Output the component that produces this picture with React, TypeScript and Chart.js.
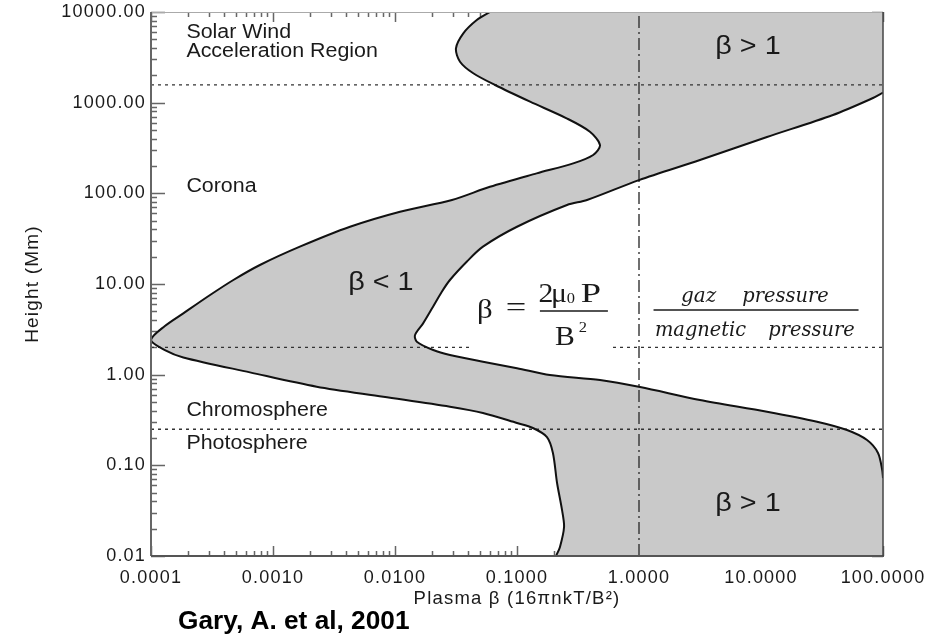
import React, { useEffect, useRef } from 'react';
import Chart from 'chart.js/auto';

// Axis ranges and tick labels
const xMin = 0.0001;
const xMax = 100;
const yMin = 0.01;
const yMax = 10000;
const xTickValues = [0.0001, 0.001, 0.01, 0.1, 1, 10, 100];
const xTickLabels = ['0.0001', '0.0010', '0.0100', '0.1000', '1.0000', '10.0000', '100.0000'];
const yTickValues = [0.01, 0.1, 1, 10, 100, 1000, 10000];
const yTickLabels = ['0.01', '0.10', '1.00', '10.00', '100.00', '1000.00', '10000.00'];

// Minimum plasma beta boundary (top of the plot to the bottom)
const minBetaX = [0.0601, 0.0468, 0.0363, 0.0316, 0.0341, 0.0438, 0.0661, 0.128, 0.255, 0.396, 0.479, 0.421, 0.289, 0.145, 0.06, 0.0293, 0.011, 0.00428, 0.00166, 0.000781, 0.000473, 0.000305, 0.000184, 0.00013, 0.0001, 0.00013, 0.000184, 0.000647, 0.00228, 0.00802, 0.0282, 0.0526, 0.1, 0.135, 0.176, 0.197, 0.213, 0.234, 0.243, 0.225, 0.209];
const minBetaH = [10000, 8160, 5820, 3975, 2830, 2110, 1566, 1025, 672, 478, 341, 265, 214, 166, 118, 84.4, 62.7, 42.8, 25.8, 16.2, 11.07, 7.56, 4.75, 3.44, 2.41, 1.87, 1.55, 1.06, 0.736, 0.571, 0.443, 0.378, 0.293, 0.258, 0.205, 0.137, 0.0638, 0.0321, 0.0209, 0.0126, 0.01];

// Maximum plasma beta boundary (right edge high, nose near 2 Mm, right edge low)
const maxBetaX = [100, 82.8, 38.9, 11.2, 3.16, 1.0, 0.375, 0.257, 0.1, 0.0526, 0.0387, 0.0282, 0.0242, 0.0205, 0.017, 0.0146, 0.0151, 0.0206, 0.0282, 0.0526, 0.1, 0.186, 0.479, 1.02, 3.16, 11.2, 28.8, 50.7, 74.0, 91.0, 98.5, 100];
const maxBetaH = [1288, 1125, 731, 418, 233, 140, 84.4, 74.3, 42.8, 25.8, 17.6, 11.07, 8.22, 5.62, 3.68, 2.74, 2.31, 1.87, 1.65, 1.39, 1.18, 0.99, 0.873, 0.731, 0.526, 0.391, 0.303, 0.245, 0.19, 0.137, 0.0889, 0.0724];

// Layer boundaries (dotted) and beta = 1 line (dash-dot)
const layerHeights = [1570, 2.0, 0.25];
const unityBeta = 1;

const SANS = "'Liberation Sans', Arial, Helvetica, sans-serif";
const SERIF = "'Liberation Serif', 'Times New Roman', serif";
const DSERIF = "'DejaVu Serif', serif";
const CURVE_TENSION = 0.3;

const regionLabels = [
  { text: 'Solar Wind', x: 1.95e-4, h: 6010 },
  { text: 'Acceleration Region', x: 1.95e-4, h: 3715 },
  { text: 'Corona', x: 1.95e-4, h: 117.5 },
  { text: 'Chromosphere', x: 1.95e-4, h: 0.407 },
  { text: 'Photosphere', x: 1.95e-4, h: 0.172 },
];
const betaLabels = [
  { text: 'β < 1', x: 0.00767, h: 10.3 },
  { text: 'β > 1', x: 7.82, h: 4055 },
  { text: 'β > 1', x: 7.82, h: 0.0375 },
];
const formulaAnchor = { x: 0.157, h: 5.04 };
const ratioAnchor = { x: 9.02, h: 5.04 };

const pts = (xs: number[], hs: number[]) => xs.map((v, i) => ({ x: v, y: hs[i] }));

function labelFor(v: number, vals: number[], labels: string[]) {
  for (let i = 0; i < vals.length; i++) {
    if (Math.abs(Math.log10(v) - Math.log10(vals[i])) < 1e-6) return labels[i];
  }
  return '';
}

function txt(ctx: CanvasRenderingContext2D, s: string, x: number, y: number, font: string,
  align: CanvasTextAlign = 'left', sx = 1, base: CanvasTextBaseline = 'middle', ls = '0px') {
  ctx.save();
  ctx.translate(x, y);
  ctx.scale(sx, 1);
  ctx.font = font;
  (ctx as any).letterSpacing = ls;
  ctx.textAlign = align;
  ctx.textBaseline = base;
  ctx.fillText(s, 0, 0);
  ctx.restore();
}

const decor = {
  id: 'decor',
  beforeDraw(chart: any) {
    chart.ctx.letterSpacing = '1.2px';
  },
  beforeDatasetsDraw(chart: any) {
    const { ctx, chartArea: a, scales } = chart;
    const xs = scales.x, ys = scales.y;
    ctx.save();
    ctx.strokeStyle = '#666';
    ctx.lineWidth = 1.5;
    ctx.beginPath();
    for (let e = -4; e <= 2; e++) {
      for (let m = 1; m <= 9; m++) {
        if (e === 2 && m > 1) break;
        const px = Math.round(xs.getPixelForValue(m * Math.pow(10, e))) + 0.5;
        const len = m === 1 ? 10 : 5;
        ctx.moveTo(px, a.bottom); ctx.lineTo(px, a.bottom - len);
        ctx.moveTo(px, a.top); ctx.lineTo(px, a.top + len);
      }
    }
    for (let e = -2; e <= 4; e++) {
      for (let m = 1; m <= 9; m++) {
        if (e === 4 && m > 1) break;
        const py = Math.round(ys.getPixelForValue(m * Math.pow(10, e))) + 0.5;
        const lenL = m === 1 ? 14 : 6;
        const lenR = m === 1 ? 11 : 7;
        ctx.moveTo(a.left, py); ctx.lineTo(a.left + lenL, py);
        ctx.moveTo(a.right, py); ctx.lineTo(a.right - lenR, py);
      }
    }
    ctx.stroke();
    ctx.restore();
  },
  afterDatasetsDraw(chart: any) {
    const { ctx, chartArea: a, scales } = chart;
    const xs = scales.x, ys = scales.y;
    ctx.save();
    // frame
    ctx.lineWidth = 1;
    ctx.strokeStyle = '#aaa';
    ctx.beginPath(); ctx.moveTo(a.left, a.top + 0.5); ctx.lineTo(a.right, a.top + 0.5); ctx.stroke();
    ctx.lineWidth = 2;
    ctx.strokeStyle = '#666';
    ctx.beginPath(); ctx.moveTo(a.left, a.top); ctx.lineTo(a.left, a.bottom); ctx.stroke();
    ctx.strokeStyle = '#555';
    ctx.beginPath(); ctx.moveTo(a.left, a.bottom); ctx.lineTo(a.right + 1, a.bottom); ctx.stroke();
    ctx.strokeStyle = '#444';
    ctx.lineWidth = 1.5;
    ctx.beginPath(); ctx.moveTo(a.right, a.top); ctx.lineTo(a.right, a.bottom); ctx.stroke();

    ctx.fillStyle = '#1a1a1a';
    for (const l of regionLabels) {
      txt(ctx, l.text, xs.getPixelForValue(l.x), ys.getPixelForValue(l.h), `20px ${SANS}`, 'left', 1.07);
    }
    for (const l of betaLabels) {
      txt(ctx, l.text, xs.getPixelForValue(l.x), ys.getPixelForValue(l.h), `25px ${SANS}`, 'center', 1.15);
    }

    // formula beta = 2 mu0 P / B^2
    const fx = xs.getPixelForValue(formulaAnchor.x);
    const fy = ys.getPixelForValue(formulaAnchor.h);
    ctx.fillStyle = '#ffffff';
    ctx.fillRect(fx - 69, fy - 34, 138, 73);
    ctx.fillStyle = '#1a1a1a';
    txt(ctx, 'β', fx - 56, fy + 7, `28px ${SERIF}`, 'center', 1.1, 'alphabetic');
    txt(ctx, '=', fx - 25, fy + 5, `28px ${SERIF}`, 'center', 1.3, 'alphabetic');
    txt(ctx, '2', fx + 5, fy - 9, `27px ${SERIF}`, 'center', 1.1, 'alphabetic');
    txt(ctx, 'μ', fx + 18, fy - 9, `27px ${SERIF}`, 'center', 1.1, 'alphabetic');
    txt(ctx, '0', fx + 30, fy - 8, `15px ${SERIF}`, 'center', 1.1, 'alphabetic');
    txt(ctx, 'P', fx + 50, fy - 9, `27px ${SERIF}`, 'center', 1.35, 'alphabetic');
    txt(ctx, 'B', fx + 24, fy + 34, `27px ${SERIF}`, 'center', 1.1, 'alphabetic');
    txt(ctx, '2', fx + 42, fy + 21, `15px ${SERIF}`, 'center', 1.1, 'alphabetic');
    ctx.strokeStyle = '#1a1a1a';
    ctx.lineWidth = 1.5;
    ctx.beginPath(); ctx.moveTo(fx - 1, fy); ctx.lineTo(fx + 67, fy); ctx.stroke();

    // gaz pressure / magnetic pressure
    const gx = xs.getPixelForValue(ratioAnchor.x);
    const gy = ys.getPixelForValue(ratioAnchor.h);
    txt(ctx, 'gaz', gx - 57, gy - 9, `italic 20px ${DSERIF}`, 'center', 1, 'alphabetic');
    txt(ctx, 'pressure', gx + 30, gy - 9, `italic 20px ${DSERIF}`, 'center', 0.97, 'alphabetic');
    txt(ctx, 'magnetic', gx - 55, gy + 25, `italic 20px ${DSERIF}`, 'center', 0.97, 'alphabetic');
    txt(ctx, 'pressure', gx + 56, gy + 25, `italic 20px ${DSERIF}`, 'center', 0.97, 'alphabetic');
    ctx.lineWidth = 1.3;
    ctx.beginPath(); ctx.moveTo(gx - 102, gy - 1); ctx.lineTo(gx + 103, gy - 1); ctx.stroke();

    // source
    ctx.fillStyle = '#000';
    txt(ctx, 'Gary, A. et al, 2001', a.left + 27, a.bottom + 66, `bold 25px ${SANS}`, 'left', 1.05);
    ctx.restore();
  },
};

export default function App() {
  const ref = useRef<HTMLCanvasElement>(null);
  useEffect(() => {
    const fillBase = { showLine: true, pointRadius: 0, pointHoverRadius: 0, borderWidth: 0, borderColor: 'rgba(0,0,0,0)', tension: CURVE_TENSION };
    const lineBase = { showLine: true, pointRadius: 0, pointHoverRadius: 0, fill: false };
    const datasets: any[] = [
      { ...fillBase, label: 'beta range', data: [...pts(minBetaX, minBetaH), { x: xMax, y: yMin }, { x: xMax, y: yMax }], fill: 'shape', backgroundColor: '#c9c9c9', order: 10 },
      { ...fillBase, label: 'outside', data: pts(maxBetaX, maxBetaH), fill: 'shape', backgroundColor: '#ffffff', order: 9 },
      ...layerHeights.map((h) => ({ ...lineBase, label: 'layer', data: [{ x: xMin, y: h }, { x: xMax, y: h }], borderColor: '#333', borderWidth: 1.3, borderDash: [3, 4], order: 5 })),
      { ...lineBase, label: 'beta=1', data: [{ x: unityBeta, y: yMin }, { x: unityBeta, y: yMax }], borderColor: '#333', borderWidth: 1.4, borderDash: [12, 4, 2, 4], order: 5 },
      { ...lineBase, label: 'min beta', data: pts(minBetaX, minBetaH), borderColor: '#111', borderWidth: 2, tension: CURVE_TENSION, order: 1 },
      { ...lineBase, label: 'max beta', data: pts(maxBetaX, maxBetaH), borderColor: '#111', borderWidth: 2, tension: CURVE_TENSION, order: 1 },
    ];
    const tickFont = { family: SANS, size: 18 };
    const chart = new Chart(ref.current as HTMLCanvasElement, {
      type: 'scatter',
      data: { datasets },
      options: {
        responsive: false,
        animation: false,
        devicePixelRatio: 1,
        events: [],
        layout: { padding: { left: 0, right: 50, top: 12, bottom: 0 } },
        plugins: { legend: { display: false }, tooltip: { enabled: false } },
        scales: {
          x: {
            type: 'logarithmic', min: xMin, max: xMax, position: 'bottom',
            grid: { display: false, drawTicks: false }, border: { display: false },
            afterBuildTicks: (s: any) => { s.ticks = xTickValues.map((v) => ({ value: v })); },
            afterFit: (s: any) => { s.height = 80; s.paddingLeft = 0; s.paddingRight = 0; },
            ticks: { autoSkip: false, maxRotation: 0, minRotation: 0, padding: 11, color: '#1a1a1a', font: tickFont,
              callback: (v: any) => labelFor(Number(v), xTickValues, xTickLabels) },
            title: { display: true, text: 'Plasma β (16πnkT/B²)', color: '#1a1a1a', font: { family: SANS, size: 18.5 }, padding: { top: 0, bottom: 26 } },
          },
          y: {
            type: 'logarithmic', min: yMin, max: yMax, position: 'left',
            grid: { display: false, drawTicks: false }, border: { display: false },
            afterBuildTicks: (s: any) => { s.ticks = yTickValues.map((v) => ({ value: v })); },
            afterFit: (s: any) => { s.width = 151; s.paddingTop = 0; s.paddingBottom = 0; },
            ticks: { autoSkip: false, padding: 5, color: '#1a1a1a', font: tickFont,
              callback: (v: any) => labelFor(Number(v), yTickValues, yTickLabels) },
            title: { display: true, text: 'Height (Mm)', color: '#1a1a1a', font: { family: SANS, size: 19 }, padding: { top: 21, bottom: 0 } },
          },
        },
      } as any,
      plugins: [decor as any],
    });
    return () => chart.destroy();
  }, []);
  return (
    <div style={{ position: 'fixed', left: 0, top: 0, width: 933, height: 636, background: '#fff' }}>
      <canvas ref={ref} width={933} height={636} style={{ display: 'block' }} />
    </div>
  );
}
